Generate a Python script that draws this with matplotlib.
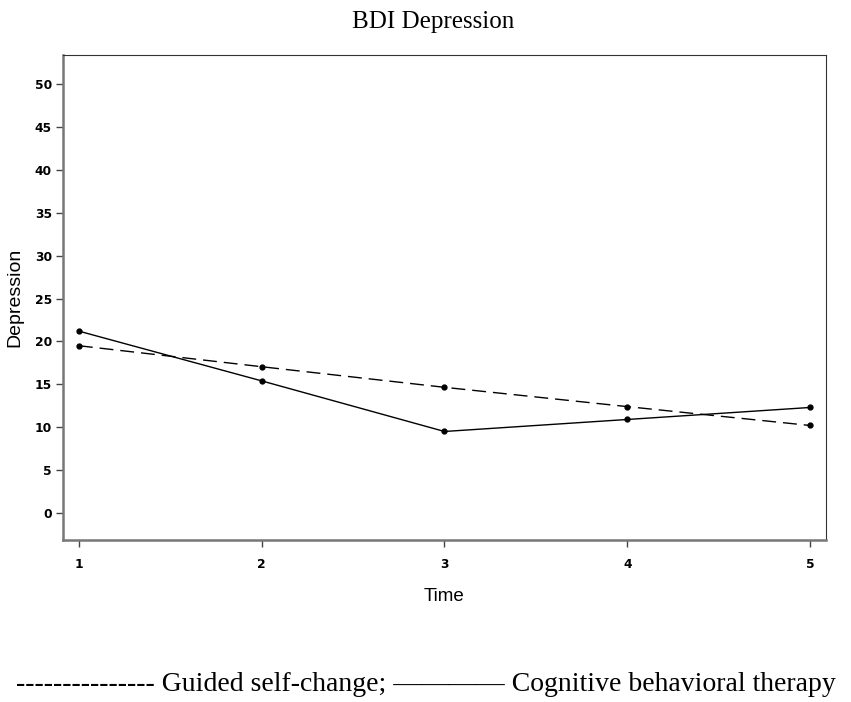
import matplotlib.pyplot as plt

time = [1, 2, 3, 4, 5]
guided_self_change = [19.5, 17.05, 14.65, 12.4, 10.2]
cbt = [21.2, 15.4, 9.5, 10.9, 12.3]
y_ticks = [0, 5, 10, 15, 20, 25, 30, 35, 40, 45, 50]

fig = plt.figure(figsize=(8.51, 7.02), dpi=100)
ax = fig.add_axes([0.074, 0.2308, 0.8966, 0.6909])

ax.plot(time, guided_self_change, color="black", lw=1.0, ls=(0, (10, 5)),
        marker="o", markersize=3.5)
ax.plot(time, cbt, color="black", lw=1.0, marker="o", markersize=3.5)

ax.set_xlim(0.913, 5.087)
ax.set_ylim(-3.15, 53.4)
ax.set_xticks(time)
ax.set_yticks(y_ticks)
for lab in ax.get_xticklabels() + ax.get_yticklabels():
    lab.set_fontweight("bold")
    lab.set_fontsize(8.8)
    lab.set_family("DejaVu Sans")
ax.tick_params(direction="out", length=5, width=1, color="#444444")
ax.tick_params(axis="x", pad=8)
ax.tick_params(axis="y", pad=3)

for side in ("left", "bottom"):
    ax.spines[side].set_color("#777777")
    ax.spines[side].set_linewidth(1.8)
for side in ("top", "right"):
    ax.spines[side].set_color("#333333")
    ax.spines[side].set_linewidth(0.8)

ax.set_xlabel("Time", family="Liberation Sans", fontsize=13.5, labelpad=12)
ax.set_ylabel("Depression", family="Liberation Sans", fontsize=14, labelpad=8)

fig.text(0.509, 0.9605, "BDI Depression", ha="center", va="baseline",
         family="Liberation Serif", fontsize=18)
fig.text(0.5, 0.0157,
         "--------------- Guided self-change; \u2014\u2014\u2014\u2014 Cognitive behavioral therapy",
         ha="center", va="baseline", family="Liberation Serif", fontsize=20)

fig.savefig("out.png", dpi=100)
